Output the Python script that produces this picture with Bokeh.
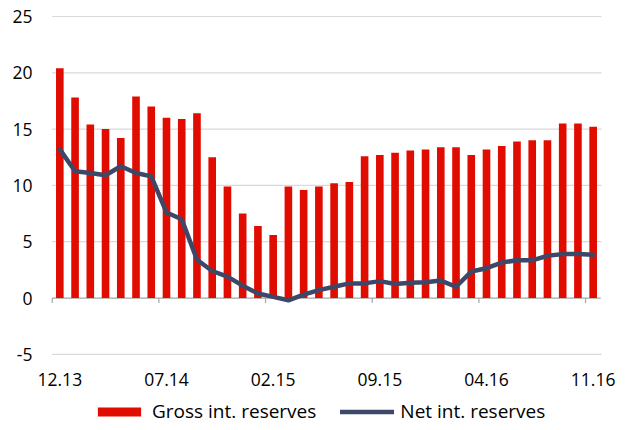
from bokeh.plotting import figure
from bokeh.models import ColumnDataSource, Range1d, Legend, LegendItem
from bokeh.core.properties import value
from bokeh.embed import file_html
from bokeh.resources import INLINE

months = ["12.13", "01.14", "02.14", "03.14", "04.14", "05.14", "06.14", "07.14",
          "08.14", "09.14", "10.14", "11.14", "12.14", "01.15", "02.15", "03.15",
          "04.15", "05.15", "06.15", "07.15", "08.15", "09.15", "10.15", "11.15",
          "12.15", "01.16", "02.16", "03.16", "04.16", "05.16", "06.16", "07.16",
          "08.16", "09.16", "10.16", "11.16"]
gross = [20.4, 17.8, 15.4, 15.0, 14.2, 17.9, 17.0, 16.0, 15.9, 16.4, 12.5, 9.9,
         7.5, 6.4, 5.6, 9.9, 9.6, 9.9, 10.2, 10.3, 12.6, 12.7, 12.9, 13.1,
         13.2, 13.4, 13.4, 12.7, 13.2, 13.5, 13.9, 14.0, 14.0, 15.5, 15.5, 15.2]
net = [13.2, 11.25, 11.1, 10.9, 11.7, 11.1, 10.8, 7.6, 7.0, 3.4, 2.4, 1.9,
       1.1, 0.4, 0.1, -0.2, 0.3, 0.7, 1.0, 1.3, 1.3, 1.5, 1.25, 1.35,
       1.4, 1.55, 1.0, 2.35, 2.65, 3.15, 3.35, 3.35, 3.75, 3.9, 3.9, 3.85]
tick_labels = ["12.13", "07.14", "02.15", "09.15", "04.16", "11.16"]
y_ticks = [-5, 0, 5, 10, 15, 20, 25]
y_tick_labels = ["-5", "0", "5", "10", "15", "20", "25"]

FONT = "Open Sans"
RED = "#E10C00"
NAVY = "#3D4868"
AXIS_GREY = "#A6A6A6"
GRID_GREY = "#D9D9D9"
LABEL_Y = -7.25      # "low" position of the category labels (data units)
Y_LABEL_X = -1.8     # right edge of the value labels (data units)
TICK_LEN = 0.45      # category tick marks below the zero line (data units)

n = len(months)
x = list(range(n))
src = ColumnDataSource(dict(x=x, gross=gross, net=net, month=months))

# the whole figure is the plotting frame; ranges place the categories
p = figure(width=618, height=424, output_backend="svg", toolbar_location=None,
           x_range=Range1d(-3.893, n + 0.662), y_range=Range1d(-11.23, 26.42),
           min_border_left=0, min_border_right=0, min_border_top=0,
           min_border_bottom=0)
p.outline_line_color = None
p.background_fill_color = "white"
p.xaxis.visible = False
p.yaxis.visible = False
p.grid.visible = False

left_edge = -0.5
right_edge = n - 0.5

# horizontal gridlines (all value ticks but zero)
grid_vals = [t for t in y_ticks if t != 0]
p.segment(x0=[left_edge] * len(grid_vals), x1=[right_edge + 0.05] * len(grid_vals),
          y0=grid_vals, y1=grid_vals, line_color=GRID_GREY, line_width=1.2)

# zero axis line and category-boundary tick marks
p.segment(x0=[left_edge], x1=[right_edge], y0=[0], y1=[0],
          line_color=AXIS_GREY, line_width=1.2)
tick_pos = [months.index(t) for t in tick_labels]
boundaries = [i - 0.5 for i in tick_pos]
p.segment(x0=boundaries, y0=[0] * len(boundaries), x1=boundaries,
          y1=[-TICK_LEN] * len(boundaries), line_color=AXIS_GREY, line_width=1.2)

bars = p.vbar(x="x", top="gross", bottom=0, width=0.5, source=src,
              fill_color=RED, line_color=None)
line = p.line(x="x", y="net", source=src, line_color=NAVY, line_width=4.5,
              line_join="round", line_cap="round")

# category labels (low position)
p.text(x=tick_pos, y=[LABEL_Y] * len(tick_pos), text=tick_labels,
       text_font=value(FONT), text_font_size="17.5px", text_color="#000000",
       text_align="center", text_baseline="middle")

# value labels
p.text(x=[Y_LABEL_X] * len(y_ticks), y=y_ticks, text=y_tick_labels,
       text_font=value(FONT), text_font_size="17.5px", text_color="#000000",
       text_align="right", text_baseline="middle")

legend = Legend(items=[LegendItem(label="Gross int. reserves", renderers=[bars]),
                       LegendItem(label="Net int. reserves", renderers=[line])],
                orientation="horizontal", location=(92, 0),
                label_text_font=FONT, label_text_font_size="19px",
                label_text_color="#000000",
                glyph_width=54, glyph_height=11, label_standoff=6, spacing=24,
                border_line_color=None, background_fill_alpha=0,
                padding=2, margin=0)
p.add_layout(legend, "center")

open("out.html", "w").write(file_html(p, INLINE))
